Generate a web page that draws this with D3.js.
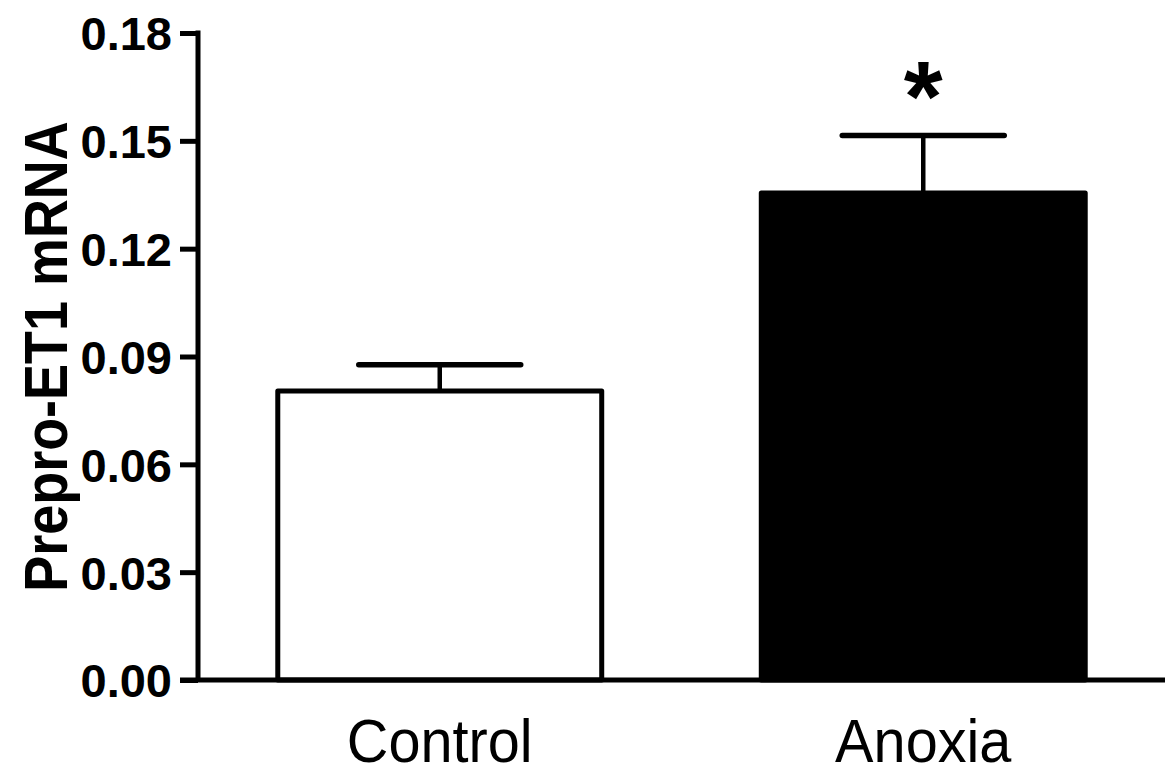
<!DOCTYPE html>
<html>
<head>
  <title>Prepro-ET1 mRNA</title>
  <script src="https://d3js.org/d3.v7.min.js"></script>
  <style>
    body { margin: 0; background: #fff; }
    text { font-family: "Liberation Sans", Arial, sans-serif; fill: #000; }
  </style>
</head>
<body>

<div id="chart"></div>

<script>
// data
const groups = ["Control", "Anoxia"];
const means = [0.0804, 0.1355];
const sems = [0.0073, 0.0160];
const fills = ["#fff", "#000"];
const marks = ["", "*"];
const yTicks = [0, 0.03, 0.06, 0.09, 0.12, 0.15, 0.18];

const width = 1165, height = 775;

const svg = d3.select("#chart")
  .append("svg")
  .attr("width", width)
  .attr("height", height);

const x = d3.scaleBand()
  .domain(groups)
  .range([198, 1165])
  .paddingInner(0.33)
  .paddingOuter(0.165);

const y = d3.scaleLinear()
  .domain([0, 0.18])
  .range([680, 33]);

const data = groups.map((g, i) => ({ g, m: means[i], s: sems[i], fill: fills[i], mark: marks[i] }));

// error bars (drawn first so the bar outline sits on top)
const err = svg.append("g");
err.selectAll("line.stem")
  .data(data)
  .enter().append("line")
  .attr("x1", d => x(d.g) + x.bandwidth() / 2)
  .attr("x2", d => x(d.g) + x.bandwidth() / 2)
  .attr("y1", d => y(d.m))
  .attr("y2", d => y(d.m + d.s))
  .attr("stroke", "#000")
  .attr("stroke-width", 4.5);

err.selectAll("line.cap")
  .data(data)
  .enter().append("line")
  .attr("x1", d => x(d.g) + x.bandwidth() / 4)
  .attr("x2", d => x(d.g) + x.bandwidth() * 3 / 4)
  .attr("y1", d => y(d.m + d.s))
  .attr("y2", d => y(d.m + d.s))
  .attr("stroke", "#000")
  .attr("stroke-width", 5.5)
  .attr("stroke-linecap", "round");

// bars
svg.selectAll("rect.bar")
  .data(data)
  .enter().append("rect")
  .attr("x", d => x(d.g))
  .attr("y", d => y(d.m))
  .attr("width", x.bandwidth())
  .attr("height", d => y(0) - y(d.m))
  .attr("fill", d => d.fill)
  .attr("stroke", "#000")
  .attr("stroke-width", 5)
  .attr("stroke-linejoin", "round");

// significance marker
svg.selectAll("text.mark")
  .data(data)
  .enter().append("text")
  .attr("x", d => x(d.g) + x.bandwidth() / 2)
  .attr("y", d => y(d.m + d.s) - 4)
  .attr("text-anchor", "middle")
  .attr("font-size", 100)
  .attr("font-weight", "bold")
  .text(d => d.mark);

// y axis
const yAxis = svg.append("g")
  .attr("transform", "translate(198,0)")
  .call(d3.axisLeft(y).tickValues(yTicks).tickFormat(d3.format(".2f")).tickSize(18).tickSizeOuter(0).tickPadding(8));
yAxis.select(".domain").attr("stroke-width", 5).attr("d", `M0,${y(0.18) - 2.5}V${y(0)}`);
yAxis.selectAll(".tick line").attr("stroke-width", 5);
yAxis.selectAll(".tick text")
  .attr("font-family", "Liberation Sans, Arial, sans-serif")
  .attr("font-size", 47)
  .attr("font-weight", "bold")
  .attr("dy", "0.36em");

// x axis line
svg.append("line")
  .attr("x1", 180)
  .attr("x2", 1165)
  .attr("y1", y(0))
  .attr("y2", y(0))
  .attr("stroke", "#000")
  .attr("stroke-width", 5);

// category labels
svg.selectAll("text.cat")
  .data(groups)
  .enter().append("text")
  .attr("transform", d => `translate(${x(d) + x.bandwidth() / 2},762) scale(0.93,1)`)
  .attr("text-anchor", "middle")
  .attr("font-size", 62)
  .text(d => d);

// y axis title
svg.append("text")
  .attr("transform", `translate(67,${(y(0) + y(0.18)) / 2}) rotate(-90) scale(0.87,1)`)
  .attr("text-anchor", "middle")
  .attr("font-size", 62)
  .attr("font-weight", "bold")
  .text("Prepro-ET1 mRNA");
</script>

</body>
</html>
